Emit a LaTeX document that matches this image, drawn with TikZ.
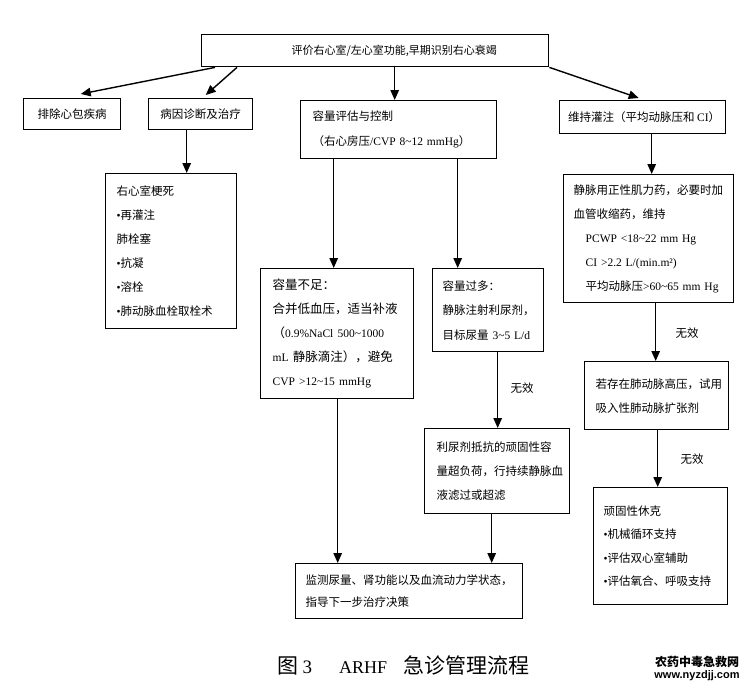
\documentclass[tikz,border=0pt]{standalone}
\usepackage{fontspec}
\setmainfont{Noto Sans CJK SC}
\newfontfamily\Enfont{Liberation Serif}
\newfontfamily\Wmfont{Liberation Sans}
\newcommand\En[1]{{\Enfont #1}}
\newcommand\tld{\textasciitilde}
\newcommand\bul{{\Enfont •}}
\usetikzlibrary{arrows.meta,calc}
\begin{document}
\begin{tikzpicture}[x=1pt,y=-1pt,
 box/.style={draw, line width=1.4pt, inner ysep=0pt, font=\fontsize{11.5}{24}\selectfont, anchor=north west},
 cbox/.style={box, align=center, inner xsep=0pt},
 lbox/.style={box, align=left},
 arr/.style={line width=1.4pt, -{Triangle[length=10pt,width=8.5pt]}},
 lbl/.style={font=\fontsize{11.5}{14}\selectfont}]
\useasboundingbox (0,0) rectangle (756,696);

% top
\node[cbox, minimum width=347pt, minimum height=32pt, font=\fontsize{11}{14}\selectfont] (top) at (201,34) {\hspace*{38pt}评价右心室/左心室功能,早期识别右心衰竭};

% left column
\node[cbox, minimum width=97pt, minimum height=31pt] (b1) at (23,98) {排除心包疾病};
\node[cbox, minimum width=104pt, minimum height=31pt] (b2) at (148,98) {病因诊断及治疗};
\node[lbox, minimum width=131pt, minimum height=155pt, inner xsep=11pt, text width=109pt] (b3) at (105,173)
 {右心室梗死\\\bul 再灌注\\肺栓塞\\\bul 抗凝\\\bul 溶栓\\\bul 肺动脉血栓取栓术};

% middle column
\node[lbox, minimum width=196pt, minimum height=58pt, inner xsep=12pt, text width=172pt, font=\fontsize{11.5}{25}\selectfont] (m1) at (300,100)
 {容量评估与控制\\（右心房压\En{/CVP 8\tld12 mmHg}）};
\node[lbox, minimum width=153pt, minimum height=130pt, inner xsep=12pt, text width=129pt, font=\fontsize{12.5}{24}\selectfont] (m2) at (260,268)
 {容量不足：\\合并低血压，适当补液\\（\En{\fontsize{11.5}{24}\selectfont 0.9\%NaCl 500\tld1000}\\\En{\fontsize{11.5}{24}\selectfont mL} 静脉滴注），避免\\\En{\fontsize{11.5}{24}\selectfont CVP >12\tld15 mmHg}};
\node[lbox, minimum width=111pt, minimum height=83pt, inner xsep=10pt, text width=91pt, font=\fontsize{11.5}{24.5}\selectfont] (m3) at (432,268)
 {容量过多：\\静脉注射利尿剂，\\目标尿量 \En{3\tld5 L/d}};
\node[lbox, minimum width=145pt, minimum height=85pt, inner xsep=12pt, text width=121pt] (m4) at (424,428)
 {利尿剂抵抗的顽固性容\\量超负荷，行持续静脉血\\液滤过或超滤};
\node[lbox, minimum width=227pt, minimum height=55pt, inner xsep=10pt, text width=207pt, font=\fontsize{11.5}{22}\selectfont] (bot) at (295,563)
 {监测尿量、肾功能以及血流动力学状态，\\指导下一步治疗决策};

% right column
\node[cbox, minimum width=166pt, minimum height=33pt] (r1) at (559,100) {\hspace*{3pt}维持灌注（平均动脉压和 \En{CI}）};
\node[lbox, minimum width=170pt, minimum height=128pt, inner xsep=10pt, text width=150pt] (r2) at (563,174)
 {静脉用正性肌力药，必要时加\\血管收缩药，维持\\\hspace*{12pt}\En{PCWP <18\tld22 mm Hg}\\\hspace*{12pt}\En{CI >2.2 L/(min.m²)}\\\hspace*{12pt}平均动脉压\En{>60\tld65 mm Hg}};
\node[lbox, minimum width=144pt, minimum height=68pt, inner xsep=11pt, text width=122pt] (r3) at (584,361)
 {若存在肺动脉高压，试用\\吸入性肺动脉扩张剂};
\node[lbox, minimum width=134pt, minimum height=117pt, inner xsep=10pt, text width=114pt, font=\fontsize{11.5}{23.3}\selectfont] (r4) at (593,487)
 {顽固性休克\\\bul 机械循环支持\\\bul 评估双心室辅助\\\bul 评估氧合、呼吸支持};

% connector coordinates
\coordinate (cA) at ($(m1.north)+(-4,0)$);
\coordinate (cB) at ($(b2.south)+(-14,0)$);
\coordinate (cC) at ($(m1.south)+(-65,0)$);
\coordinate (cD) at ($(m1.south)+(59,0)$);
\coordinate (cE) at ($(m3.south)+(9.5,0)$);
\coordinate (cF) at ($(m2.south)+(0.5,0)$);
\coordinate (cG) at ($(m4.south)+(-5.5,0)$);
\coordinate (cH) at ($(r1.south)+(9,0)$);
\coordinate (cI) at ($(r2.south)+(7,0)$);
\coordinate (cJ) at ($(r3.south)+(1,0)$);

% connectors
\draw[arr] ($(top.south west)+(14,0)$) -- ($(b1.north)+(8.5,-4)$);
\draw[arr] ($(top.south west)+(36,0)$) -- ($(b2.north)+(5,-3)$);
\draw[arr] (cA |- top.south) -- (cA);
\draw[arr] (top.south east) -- ($(r1.north)+(-4,-2)$);
\draw[arr] (cB) -- (cB |- b3.north);
\draw[arr] (cC) -- (cC |- m2.north);
\draw[arr] (cD) -- (cD |- m3.north);
\draw[arr] (cE) -- (cE |- m4.north);
\draw[arr] (cF) -- (cF |- bot.north);
\draw[arr] (cG) -- (cG |- bot.north);
\draw[arr] (cH) -- (cH |- r2.north);
\draw[arr] (cI) -- (cI |- r3.north);
\draw[arr] (cJ) -- (cJ |- r4.north);

% labels
\node[lbl] (w1) at (522,388) {无效};
\node[lbl] (w2) at (687,333) {无效};
\node[lbl] (w3) at (692,459) {无效};

% caption
\node[font=\fontsize{21}{21}\selectfont, anchor=west] (cap) at (274,665)
 {图\hspace{4pt}\En{\fontsize{19}{19}\selectfont 3}\hspace{27pt}\En{\fontsize{18}{18}\selectfont ARHF}\hspace{16pt}急诊管理流程};

% watermark
\node[font=\fontsize{12}{12}\selectfont\bfseries] (wm1) at (697,662) {农药中毒急救网};
\node[font=\Wmfont\fontsize{11}{11}\selectfont\bfseries] (wm2) at (697,676) {www.nyzdjj.com};
\end{tikzpicture}
\end{document}
